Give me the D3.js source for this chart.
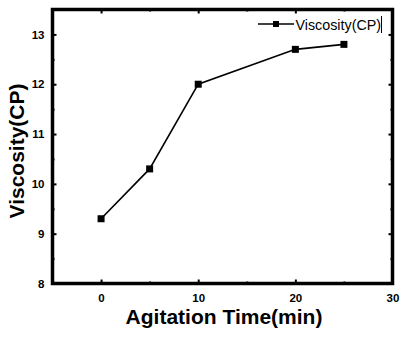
<!DOCTYPE html>
<html><head><meta charset="utf-8">
<script src="https://cdn.jsdelivr.net/npm/d3@7"></script>
<style>body{margin:0;background:#fff}svg{display:block}</style>
</head><body>
<script>
const times = [0, 5, 10, 20, 25];
const viscosity = [9.3, 10.3, 12.0, 12.7, 12.8];
const xTicks = [0, 10, 20, 30];
const yTicks = [8, 9, 10, 11, 12, 13];
const seriesName = "Viscosity(CP)";
const xTitle = "Agitation Time(min)";
const yTitle = "Viscosity(CP)";

const W = 408, H = 344;
const m = {l: 52.5, r: 392.5, t: 9.5, b: 283.5};
const svg = d3.select("body").append("svg").attr("width", W).attr("height", H);
const x = d3.scaleLinear().domain([-5, 30]).range([m.l, m.r]);
const y = d3.scaleLinear().domain([8, 13.5]).range([m.b, m.t]);
const font = "Liberation Sans, Arial, sans-serif";

const xMinor = d3.range(-5, 30.01, 5).filter(v => !xTicks.includes(v));
const yMinor = d3.range(8.5, 13.5, 1);

function ticks(g, axis, vals, len) {
  const ax = g.append("g").attr("transform", axis.tr).call(axis.gen.tickValues(vals).tickSize(len).tickSizeOuter(0).tickFormat(""));
  ax.select(".domain").remove();
  ax.selectAll(".tick line").attr("stroke", "#000").attr("stroke-width", 2);
  return ax;
}
function styleLabels(ax) {
  ax.select(".domain").remove();
  ax.selectAll("text").attr("font-family", font).attr("font-weight", "bold").attr("font-size", 11.5).attr("fill", "#000");
}
const g = svg.append("g");
ticks(g, {tr: `translate(0,${m.b})`, gen: d3.axisTop(x)}, xTicks, 4);
ticks(g, {tr: `translate(0,${m.b})`, gen: d3.axisTop(x)}, xMinor, 2);
styleLabels(g.append("g").attr("transform", `translate(0,${m.b})`).call(d3.axisBottom(x).tickValues(xTicks).tickSize(0).tickPadding(10).tickFormat(d3.format("d"))));
ticks(g, {tr: `translate(0,${m.t})`, gen: d3.axisBottom(x)}, xTicks, 4);
ticks(g, {tr: `translate(0,${m.t})`, gen: d3.axisBottom(x)}, xMinor, 2);
ticks(g, {tr: `translate(${m.l},0)`, gen: d3.axisRight(y)}, yTicks, 4);
ticks(g, {tr: `translate(${m.l},0)`, gen: d3.axisRight(y)}, yMinor, 2);
styleLabels(g.append("g").attr("transform", `translate(${m.l},0)`).call(d3.axisLeft(y).tickValues(yTicks).tickSize(0).tickPadding(8).tickFormat(d3.format("d"))));
ticks(g, {tr: `translate(${m.r},0)`, gen: d3.axisLeft(y)}, yTicks, 4);
ticks(g, {tr: `translate(${m.r},0)`, gen: d3.axisLeft(y)}, yMinor, 2);

svg.append("rect").attr("x", m.l).attr("y", m.t).attr("width", m.r - m.l).attr("height", m.b - m.t)
  .attr("fill", "none").attr("stroke", "#000").attr("stroke-width", 3.5);

const data = times.map((t, i) => ({t, v: viscosity[i]}));
svg.append("path").datum(data).attr("fill", "none").attr("stroke", "#000").attr("stroke-width", 1.6)
  .attr("d", d3.line().x(d => x(d.t)).y(d => y(d.v)));
svg.selectAll(".pt").data(data).enter().append("rect")
  .attr("x", d => x(d.t) - 3.5).attr("y", d => y(d.v) - 3.5).attr("width", 7).attr("height", 7).attr("fill", "#000");

const ly = 24;
svg.append("line").attr("x1", 258).attr("x2", 294).attr("y1", ly).attr("y2", ly).attr("stroke", "#000").attr("stroke-width", 1.6);
svg.append("rect").attr("x", 276 - 3).attr("y", ly - 3).attr("width", 6).attr("height", 6).attr("fill", "#000");
svg.append("text").attr("x", 295.5).attr("y", 29.5).attr("font-family", font).attr("font-size", 14.3).attr("fill", "#000").text(seriesName);
svg.append("line").attr("x1", 381.5).attr("x2", 381.5).attr("y1", 16).attr("y2", 33).attr("stroke", "#000").attr("stroke-width", 1);

svg.append("text").attr("x", 224).attr("y", 324).attr("text-anchor", "middle")
  .attr("font-family", font).attr("font-weight", "bold").attr("font-size", 21).attr("fill", "#000").text(xTitle);
svg.append("text").attr("transform", `translate(24,${151}) rotate(-90)`).attr("text-anchor", "middle")
  .attr("font-family", font).attr("font-weight", "bold").attr("font-size", 21).attr("fill", "#000").text(yTitle);
</script>
</body></html>
